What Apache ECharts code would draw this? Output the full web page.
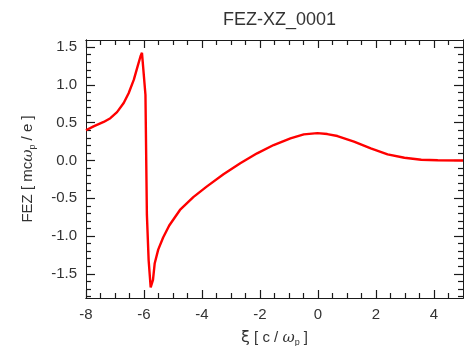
<!DOCTYPE html>
<html>
<head>
<meta charset="utf-8">
<script src="https://cdn.jsdelivr.net/npm/echarts@6/dist/echarts.min.js"></script>
<style>
  html, body { margin: 0; padding: 0; background: #fff; }
  #chart { width: 473px; height: 346px; }
</style>
</head>
<body>
<div id="chart"></div>
<script>
// Longitudinal field FEZ along the co-moving coordinate xi
const xi = [-8.0, -7.74, -7.39, -7.16, -6.93, -6.70, -6.53, -6.35, -6.24, -6.12,
  -6.07, -6.01, -5.95, -5.90, -5.84, -5.77, -5.69, -5.63, -5.51, -5.34,
  -5.13, -4.76, -4.30, -3.84, -3.26, -2.68, -2.10, -1.53, -0.95, -0.49,
  -0.02, 0.32, 0.67, 1.24, 1.82, 2.40, 2.98, 3.56, 4.13, 5.0];
const fez = [0.40, 0.452, 0.51, 0.56, 0.64, 0.76, 0.89, 1.07, 1.22, 1.38,
  1.425, 1.40, 0.87, -0.72, -1.32, -1.68, -1.58, -1.36, -1.18, -1.02,
  -0.86, -0.655, -0.485, -0.346, -0.183, -0.037, 0.095, 0.205, 0.293, 0.346,
  0.362, 0.35, 0.324, 0.249, 0.161, 0.082, 0.037, 0.01, 0.003, 0.0];

// Axis extents and tick positions
const xRange = [-8, 5];
const yRange = [-1.82, 1.595];
const xMajorTicks = [-8, -6, -4, -2, 0, 2, 4];
const xMinorTicks = [-7.5, -7, -6.5, -5.5, -5, -4.5, -3.5, -3, -2.5, -1.5, -1, -0.5,
  0.5, 1, 1.5, 2.5, 3, 3.5, 4.5];
const yMajorTicks = [-1.5, -1.0, -0.5, 0.0, 0.5, 1.0, 1.5];
const yMinorTicks = [-1.8, -1.7, -1.6, -1.4, -1.3, -1.2, -1.1, -0.9, -0.8, -0.7, -0.6,
  -0.4, -0.3, -0.2, -0.1, 0.1, 0.2, 0.3, 0.4, 0.6, 0.7, 0.8, 0.9, 1.1, 1.2, 1.3, 1.4];

const font = '"Liberation Sans", Arial, Helvetica, sans-serif';
const serif = '"DejaVu Serif", "Liberation Serif", serif';
const lineColor = '#1a1a1a';
const textColor = '#333';

const subRich = {
  t: { fontSize: 15, fontFamily: font, color: textColor },
  x: { fontSize: 16, fontFamily: '"DejaVu Sans", sans-serif', color: textColor },
  g: { fontSize: 15, fontFamily: serif, fontStyle: 'italic', color: textColor },
  s: { fontSize: 9, fontFamily: font, color: textColor, padding: [9, 0, 0, 0] }
};

function xAxisDef(pos, ticks, len, labels, name) {
  return {
    type: 'value', position: pos, min: xRange[0], max: xRange[1],
    axisLine: { show: true, onZero: false, lineStyle: { color: lineColor, width: 1 } },
    axisTick: { show: true, inside: true, length: len, customValues: ticks,
      lineStyle: { color: lineColor, width: 1.2 } },
    axisLabel: labels ? { show: true, customValues: ticks, margin: 9, color: textColor,
      fontSize: 15, fontFamily: font, formatter: v => String(Math.round(v)) } : { show: false },
    splitLine: { show: false },
    name: name || '', nameLocation: 'middle', nameGap: 31,
    nameTextStyle: { rich: subRich }
  };
}

function yAxisDef(pos, ticks, len, labels, name) {
  return {
    type: 'value', position: pos, min: yRange[0], max: yRange[1],
    axisLine: { show: true, onZero: false, lineStyle: { color: lineColor, width: 1 } },
    axisTick: { show: true, inside: true, length: len, customValues: ticks,
      lineStyle: { color: lineColor, width: 1.2 } },
    axisLabel: labels ? { show: true, customValues: ticks, margin: 9, color: textColor,
      fontSize: 15, fontFamily: font, formatter: v => v.toFixed(1) } : { show: false },
    splitLine: { show: false },
    name: name || '', nameLocation: 'middle', nameGap: 49, nameRotate: 90,
    nameTextStyle: { rich: subRich }
  };
}

const chart = echarts.init(document.getElementById('chart'), null, { renderer: 'canvas' });
chart.setOption({
  animation: false,
  backgroundColor: '#fff',
  title: {
    text: 'FEZ-XZ_0001',
    left: 274.5, top: 6, textAlign: 'center',
    textStyle: { fontFamily: font, fontSize: 18, fontWeight: 'normal', color: textColor }
  },
  grid: { left: 86, right: 10, top: 40, bottom: 48, outerBoundsMode: 'none', containLabel: false },
  xAxis: [
    xAxisDef('bottom', xMajorTicks, 8, true, '{x|ξ}{t| [ c / }{g|ω}{s|p}{t| ]}'),
    xAxisDef('bottom', xMinorTicks, 5, false),
    xAxisDef('top', xMajorTicks, 8, false),
    xAxisDef('top', xMinorTicks, 5, false)
  ],
  yAxis: [
    yAxisDef('left', yMajorTicks, 9, true, '{t|FEZ [ mc}{g|ω}{s|p}{t| / e ]}'),
    yAxisDef('left', yMinorTicks, 5, false),
    yAxisDef('right', yMajorTicks, 9, false),
    yAxisDef('right', yMinorTicks, 5, false)
  ],
  series: [{
    type: 'line',
    xAxisIndex: 0, yAxisIndex: 0,
    data: xi.map((x, i) => [x, fez[i]]),
    showSymbol: false,
    smooth: false,
    lineStyle: { color: '#ff0000', width: 2.4 }
  }]
});
</script>
</body>
</html>
